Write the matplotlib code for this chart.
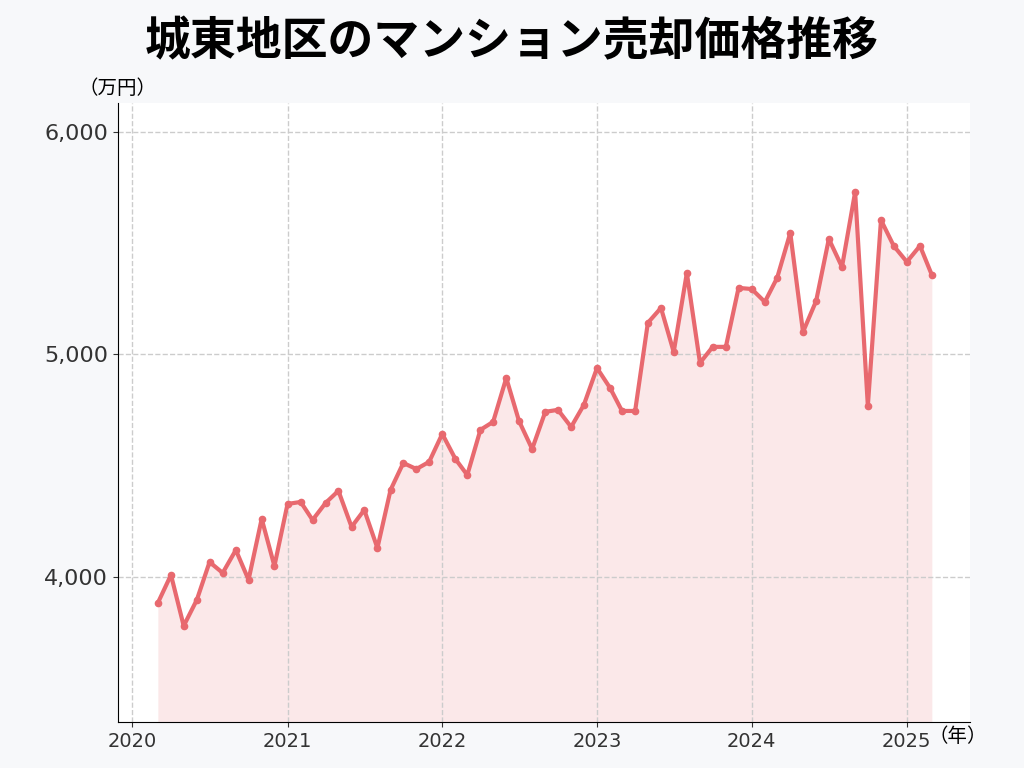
import matplotlib
matplotlib.use("Agg")
import matplotlib.pyplot as plt
import pandas as pd

plt.rcParams["font.family"] = "Noto Sans CJK JP"

dates = pd.date_range("2020-03-01", "2025-03-01", freq="MS")
prices = [3883, 4009, 3780, 3897, 4067, 4018, 4121, 3987, 4261, 4049,
          4328, 4337, 4256, 4333, 4387, 4225, 4301, 4130, 4391, 4512, 4485, 4517,
          4643, 4530, 4458, 4661, 4697, 4894, 4701, 4575, 4742, 4751, 4674, 4773,
          4939, 4849, 4746, 4746, 5142, 5209, 5011, 5366, 4962, 5034, 5034, 5299,
          5294, 5236, 5344, 5546, 5101, 5240, 5519, 5393, 5730, 4769, 5604, 5488,
          5416, 5488, 5357]
title = "城東地区のマンション売却価格推移"
year_ticks = ["2020", "2021", "2022", "2023", "2024", "2025"]
yticks = [4000, 5000, 6000]

fig = plt.figure(figsize=(10.24, 7.68), dpi=100, facecolor="#f7f8fa")
ax = fig.add_axes([118/1024, 1-722/768, (970-118)/1024, (722-103)/768])
ax.set_facecolor("white")
col = "#e8696f"
ax.fill_between(dates, prices, 3348, color=col, alpha=0.15, lw=0)
ax.plot(dates, prices, color=col, lw=3, marker="o", ms=4.5)
ax.set_ylim(3348, 6130)
ax.set_xlim(pd.Timestamp("2019-11-28"), pd.Timestamp("2025-05-30"))
ax.set_xticks([pd.Timestamp(f"{y}-01-01") for y in year_ticks])
ax.set_xticklabels(year_ticks, fontsize=14, family="DejaVu Sans")
ax.set_yticks(yticks)
ax.set_yticklabels([f"{v:,}" for v in yticks], fontsize=16, family="DejaVu Sans")
ax.grid(True, ls="--", color="#cccccc", lw=1)
for s in ["top", "right"]:
    ax.spines[s].set_visible(False)
ax.tick_params(colors="#333333")
fig.text(0.5, 1-42/768, title, ha="center", va="center", fontsize=33, fontweight="bold")
fig.text(118/1024, 1-88/768, "（万円）", ha="center", va="center", fontsize=14)
fig.text(958/1024, 1-736/768, "（年）", ha="center", va="center", fontsize=14)
fig.savefig("out.png", dpi=100, facecolor=fig.get_facecolor())
